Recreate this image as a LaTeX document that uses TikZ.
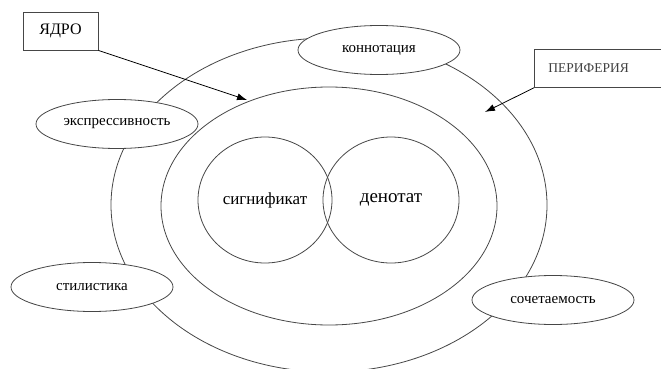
\documentclass[tikz,border=0pt]{standalone}
\usepackage{fontspec}
\setmainfont{Liberation Serif}
\newfontfamily\diagfont{Liberation Serif}
\usepackage{tikz}
\usetikzlibrary{arrows.meta,positioning,shapes.geometric}
\definecolor{ink}{RGB}{70,70,70}

\tikzset{
  oval/.style={draw=ink, ellipse, inner sep=0pt, line width=0.8pt},
  tag/.style={oval, fill=white, minimum width=162pt, minimum height=49pt, font=\diagfont\fontsize{15}{18}\selectfont},
  labelbox/.style={draw=ink, rectangle, line width=0.8pt, minimum height=38pt},
  pointer/.style={draw=black, line width=0.8pt, -{Latex[length=10pt,width=7pt]}}
}

\begin{document}
\begin{tikzpicture}[x=1pt,y=-1pt]
\clip (0,0) rectangle (661,369);
% rings
\node[oval, minimum width=436pt, minimum height=334pt] (periphery) at (329,205) {};
\node[oval, minimum width=336pt, minimum height=238pt] (core) at (329,206) {};
\node[oval, minimum width=134pt, minimum height=126pt, font=\diagfont\fontsize{17}{20}\selectfont] (signif) at (265,200) {сигнификат};
\node[oval, minimum width=136pt, minimum height=126pt, font=\diagfont\fontsize{19}{22}\selectfont] (denot) at (391,200) {денотат};
% components of the periphery
\node[tag] (konnot) at (379,50) {коннотация};
\node[tag] (ekspr) at (117,124) {экспрессивность};
\node[tag] (stilist) at (92,287) {стилистика};
\node[tag] (sochet) at (553,300) {сочетаемость};
% captions
\node[labelbox, minimum width=75pt, font=\diagfont\fontsize{16}{19}\selectfont] (yadro) at (60.5,31) {ЯДРО};
\node[labelbox, anchor=north west, text width=120pt, inner xsep=14pt, align=left, text=black!75, font=\diagfont\fontsize{13.5}{16}\selectfont] (periph) at (534,49) {ПЕРИФЕРИЯ};
\coordinate (coretip) at (247,100);
\coordinate (peripherytip) at (485,112);
\draw[pointer] (yadro.south east) -- (coretip);
\draw[pointer] (periph.south west) -- (peripherytip);
\end{tikzpicture}
\end{document}
